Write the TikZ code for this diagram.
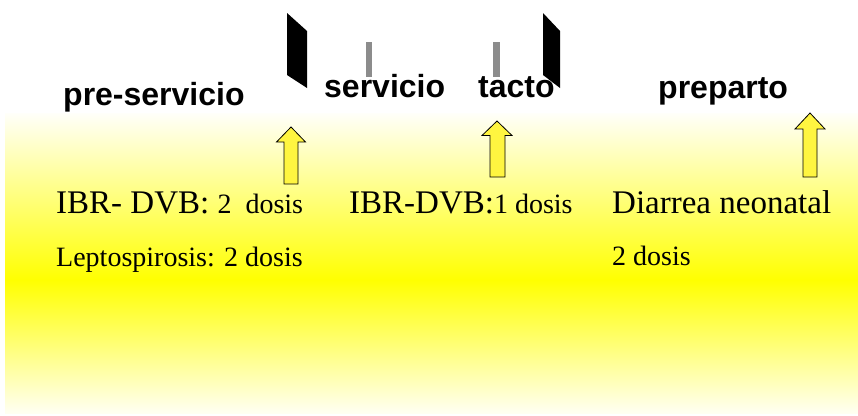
\documentclass[tikz,border=0pt]{standalone}
\usepackage{fontspec}
\setmainfont{Liberation Serif}
\newfontfamily\hsans{Liberation Sans}
\begin{document}
\begin{tikzpicture}[x=1pt,y=-1pt,
  head/.style={font=\hsans\bfseries\fontsize{32}{36}\selectfont,inner sep=0,anchor=base west},
  big/.style={font=\fontsize{33}{38}\selectfont,inner sep=0,anchor=base west},
  small/.style={font=\fontsize{28}{32}\selectfont,inner sep=0,anchor=base west},
  blockarrow/.style={fill=yellow!75!white,draw=black,line width=0.8pt,line join=miter},
  plate/.style={fill=black},
  tick/.style={fill=gray!90}]
\useasboundingbox (0,0) rectangle (858,415);
% background gradient
\shade[top color=yellow!2!white,bottom color=yellow] (5,113) rectangle (858,280.5);
\shade[top color=yellow,bottom color=yellow!5!white] (5,280) rectangle (858,413);
% black plates
\fill[plate] (287,13) -- (307,31) -- (307,88) -- (287,75) -- cycle;
\fill[plate] (543,13) -- (560,31) -- (560,88) -- (543,75) -- cycle;
% gray ticks
\fill[tick] (366,42) rectangle (372,77);
\fill[tick] (493,42) rectangle (500,77);
% headings
\node[head] (pre) at (63,105) {pre-servicio};
\node[head] (serv) at (324,97) {servicio};
\node[head] (tacto) at (478,97) {tacto};
\node[head] (prep) at (658,98) {preparto};
% arrows
\draw[blockarrow] (291,127) -- (305.5,142) -- (298,142) -- (298,184) -- (284,184) -- (284,142) -- (276.5,142) -- cycle;
\draw[blockarrow] (497,121) -- (512,135.5) -- (505,135.5) -- (505,177) -- (490,177) -- (490,135.5) -- (482,135.5) -- cycle;
\draw[blockarrow] (810,113) -- (825,129) -- (817,129) -- (817,177) -- (803,177) -- (803,129) -- (795,129) -- cycle;
% texts
\node[big] (t1) at (56,213) {IBR- DVB: {\fontsize{28}{32}\selectfont 2\ \ dosis}};
\node[small] (t2) at (56,266) {Leptospirosis: 2 dosis};
\node[big] (t3) at (349,213) {IBR-DVB:{\fontsize{28}{32}\selectfont 1 dosis}};
\node[big] (t4) at (612,213) {Diarrea neonatal};
\node[small] (t5) at (612,265) {2 dosis};
\end{tikzpicture}
\end{document}
